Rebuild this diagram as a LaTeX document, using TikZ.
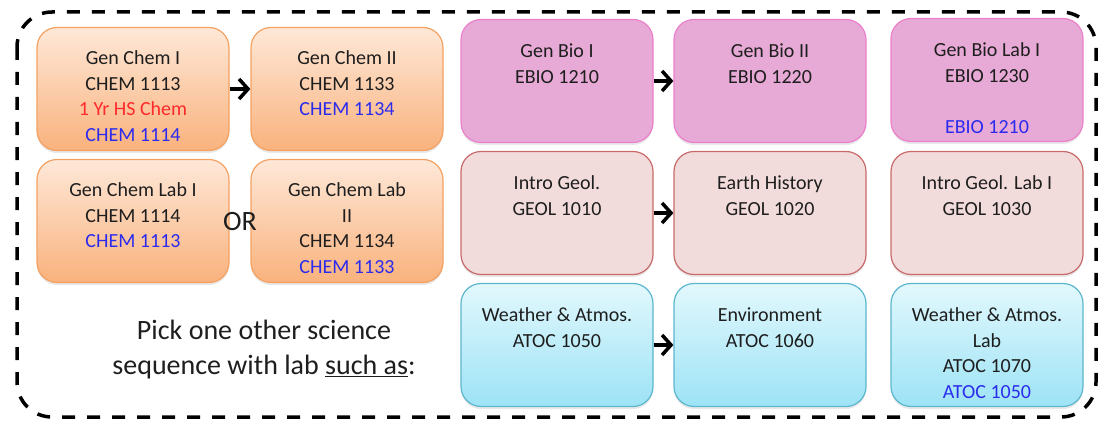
\documentclass[tikz,border=0pt]{standalone}
\usepackage{fontspec}
\setmainfont{Carlito}
\usetikzlibrary{arrows.meta,shadows}
\definecolor{orbd}{HTML}{F4A161}
\definecolor{ortop}{HTML}{FEE8D8}
\definecolor{orbot}{HTML}{F9B27D}
\definecolor{bifill}{HTML}{E7A9D5}
\definecolor{bibd}{HTML}{EC80CD}
\definecolor{gefill}{HTML}{F2DCDB}
\definecolor{gebd}{HTML}{C8696A}
\definecolor{attop}{HTML}{E2F8FD}
\definecolor{atbot}{HTML}{9DE3F5}
\definecolor{atbd}{HTML}{5CB6CE}
\definecolor{txtc}{HTML}{1E1E1E}
\definecolor{redt}{HTML}{FF2A2A}
\definecolor{bluet}{HTML}{2B2BEE}
\tikzset{
  cbox/.style={rounded corners=20pt, minimum width=192pt, minimum height=123pt, line width=1.2pt, inner sep=0pt,
     drop shadow={shadow xshift=0pt, shadow yshift=-2.5pt, opacity=0.18}},
  chembox/.style={cbox, draw=orbd, top color=ortop, bottom color=orbot},
  biobox/.style={cbox, draw=bibd, fill=bifill},
  geobox/.style={cbox, draw=gebd, fill=gefill},
  atbox/.style={cbox, draw=atbd, top color=attop, bottom color=atbot},
  txt/.style={anchor=north, align=center, inner sep=0pt, text=txtc, font=\fontsize{20}{25.5}\selectfont},
  big/.style={align=center, inner sep=0pt, text=txtc, font=\fontsize{28}{35}\selectfont},
  arr/.style={line width=3.5pt, -{Straight Barb[length=9pt,width=20pt,line width=3.5pt]}},
  border/.style={line width=3.5pt, dash pattern=on 13pt off 12pt, rounded corners=35pt}
}
\begin{document}
\begin{tikzpicture}[x=1pt,y=-1pt]
\useasboundingbox (0,0) rectangle (1102,425);
\draw[border] (17,12) rectangle (1096,417);
% chemistry
\node[chembox] (c1) at (133,89) {};
\node[chembox] (c2) at (347,89) {};
\node[chembox] (c3) at (133,221) {};
\node[chembox] (c4) at (347,221) {};
% biology
\node[biobox] (b1) at (557,81) {};
\node[biobox] (b2) at (770,81) {};
\node[biobox] (b3) at (987,80) {};
% geology
\node[geobox] (g1) at (557,213) {};
\node[geobox] (g2) at (770,213) {};
\node[geobox] (g3) at (987,213) {};
% atmosphere
\node[atbox] (a1) at (557,345) {};
\node[atbox] (a2) at (770,345) {};
\node[atbox] (a3) at (987,345) {};
% texts
\node[txt] (c1t) at ([yshift=-24pt]c1.north) {Gen Chem I\\CHEM 1113\\\textcolor{redt}{1 Yr HS Chem}\\\textcolor{bluet}{CHEM 1114}};
\node[txt] (c2t) at ([yshift=-24pt]c2.north) {Gen Chem II\\CHEM 1133\\\textcolor{bluet}{CHEM 1134}};
\node[txt] (c3t) at ([yshift=-24pt]c3.north) {Gen Chem Lab I\\CHEM 1114\\\textcolor{bluet}{CHEM 1113}};
\node[txt] (c4t) at ([yshift=-24pt]c4.north) {Gen Chem Lab\\II\\CHEM 1134\\\textcolor{bluet}{CHEM 1133}};
\node[txt] (b1t) at ([yshift=-25pt]b1.north) {Gen Bio I\\EBIO 1210};
\node[txt] (b2t) at ([yshift=-25pt]b2.north) {Gen Bio II\\EBIO 1220};
\node[txt] (b3t) at ([yshift=-25pt]b3.north) {Gen Bio Lab I\\EBIO 1230\\~\\\textcolor{bluet}{EBIO 1210}};
\node[txt] (g1t) at ([yshift=-25pt]g1.north) {Intro Geol.\\GEOL 1010};
\node[txt] (g2t) at ([yshift=-25pt]g2.north) {Earth History\\GEOL 1020};
\node[txt] (g3t) at ([yshift=-25pt]g3.north) {Intro Geol. Lab I\\GEOL 1030};
\node[txt] (a1t) at ([yshift=-25pt]a1.north) {Weather \& Atmos.\\ATOC 1050};
\node[txt] (a2t) at ([yshift=-25pt]a2.north) {Environment\\ATOC 1060};
\node[txt] (a3t) at ([yshift=-25pt]a3.north) {Weather \& Atmos.\\Lab\\ATOC 1070\\\textcolor{bluet}{ATOC 1050}};
\node[big] (or) at (240,222) {OR};
\node[big] (pick) at (264,350) {Pick one other science\\sequence with lab \underline{such as}:};
% arrows
\draw[arr] (c1.east) -- (c2.west);
\draw[arr] (b1.east) -- (b2.west);
\draw[arr] (g1.east) -- (g2.west);
\draw[arr] (a1.east) -- (a2.west);
\end{tikzpicture}
\end{document}
